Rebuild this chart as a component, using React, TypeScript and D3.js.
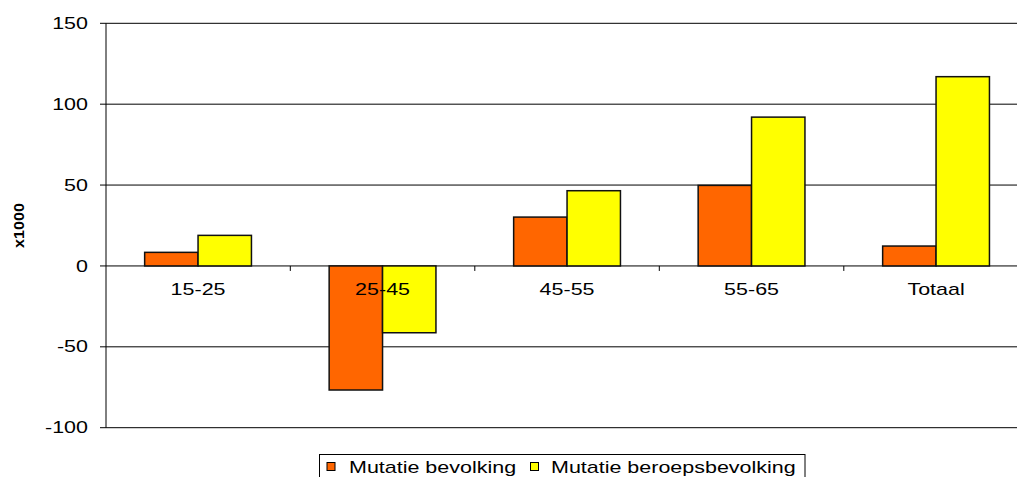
import React from "react";
import * as d3 from "d3";

const categories = ["15-25", "25-45", "45-55", "55-65", "Totaal"];
const seriesNames = ["Mutatie bevolking", "Mutatie beroepsbevolking"];
const bevolking = [8.4, -76.7, 30.2, 49.8, 12.3];
const beroepsbevolking = [18.9, -41.3, 46.5, 92, 117];
const yTicks = [150, 100, 50, 0, -50, -100];
const colors = ["#FF6600", "#FFFF00"];

const W = 1017;
const H = 477;
const SX = 1.36;
const FONT = "'Liberation Sans', Arial, Helvetica, sans-serif";

export default function App() {
  const y = d3.scaleLinear().domain([-100, 150]).range([427.7, 23.3]);
  const x = d3.scaleBand<string>().domain(categories).range([105.8, 105.8 + 5 * 184.5]).paddingInner(0).paddingOuter(0);
  const step = x.bandwidth();
  const barW = 53.4;
  const offset = (step - 2 * barW) / 2;
  const series = [bevolking, beroepsbevolking];

  const stretchedText = (tx: number, ty: number, text: string, anchor: string, size: number, key: string, weight = "normal") => (
    <g key={key} transform={`translate(${tx},${ty}) scale(${SX},1)`}>
      <text x={0} y={0} textAnchor={anchor as any} fontSize={size} fontFamily={FONT} fontWeight={weight} fill="#000">
        {text}
      </text>
    </g>
  );

  return (
    <svg width={W} height={H} style={{ position: "absolute", left: 0, top: 0, background: "#fff" }}>
      <rect x={0} y={0} width={W} height={H} fill="#fff" />
      {/* gridlines */}
      {yTicks.map((t) => (
        <line key={"g" + t} x1={100} x2={W} y1={y(t)} y2={y(t)} stroke="#000" strokeWidth={1} />
      ))}
      {/* y axis */}
      <line x1={106} x2={106} y1={y(150)} y2={y(-100)} stroke="#000" strokeWidth={1} />
      {/* y tick labels */}
      {yTicks.map((t) => stretchedText(88, y(t) + 5.6, String(t), "end", 15.8, "yl" + t))}
      {/* category ticks */}
      {categories.slice(1).map((c) => (
        <line key={"ct" + c} x1={x(c)!} x2={x(c)!} y1={y(0)} y2={y(0) + 5} stroke="#000" strokeWidth={1} />
      ))}
      {/* bars */}
      {series.map((vals, si) =>
        vals.map((v, i) => {
          const bx = x(categories[i])! + offset + si * barW;
          const y0 = y(0);
          const y1 = y(v);
          return (
            <rect
              key={`b${si}-${i}`}
              x={bx}
              y={Math.min(y0, y1)}
              width={barW}
              height={Math.abs(y1 - y0)}
              fill={colors[si]}
              stroke="#111"
              strokeWidth={1.5}
            />
          );
        })
      )}
      {/* category labels */}
      {categories.map((c) => stretchedText(x(c)! + step / 2, 294.5, c, "middle", 15.8, "cl" + c))}
      {/* y axis title */}
      <g transform={`translate(24,${(y(150) + y(-100)) / 2}) rotate(-90) scale(1.15,1)`}>
        <text x={0} y={0} textAnchor="middle" fontSize={14} fontWeight="bold" fontFamily={FONT} fill="#000">
          x1000
        </text>
      </g>
      {/* legend */}
      <rect x={319.5} y={454.5} width={485.5} height={30} fill="#fff" stroke="#000" strokeWidth={1} />
      <rect x={327} y={462.5} width={8} height={8} fill={colors[0]} stroke="#000" strokeWidth={1} />
      {stretchedText(349, 473, seriesNames[0], "start", 15.8, "lg0")}
      <rect x={530.5} y={462.5} width={8} height={8} fill={colors[1]} stroke="#000" strokeWidth={1} />
      {stretchedText(551, 473, seriesNames[1], "start", 15.8, "lg1")}
    </svg>
  );
}
